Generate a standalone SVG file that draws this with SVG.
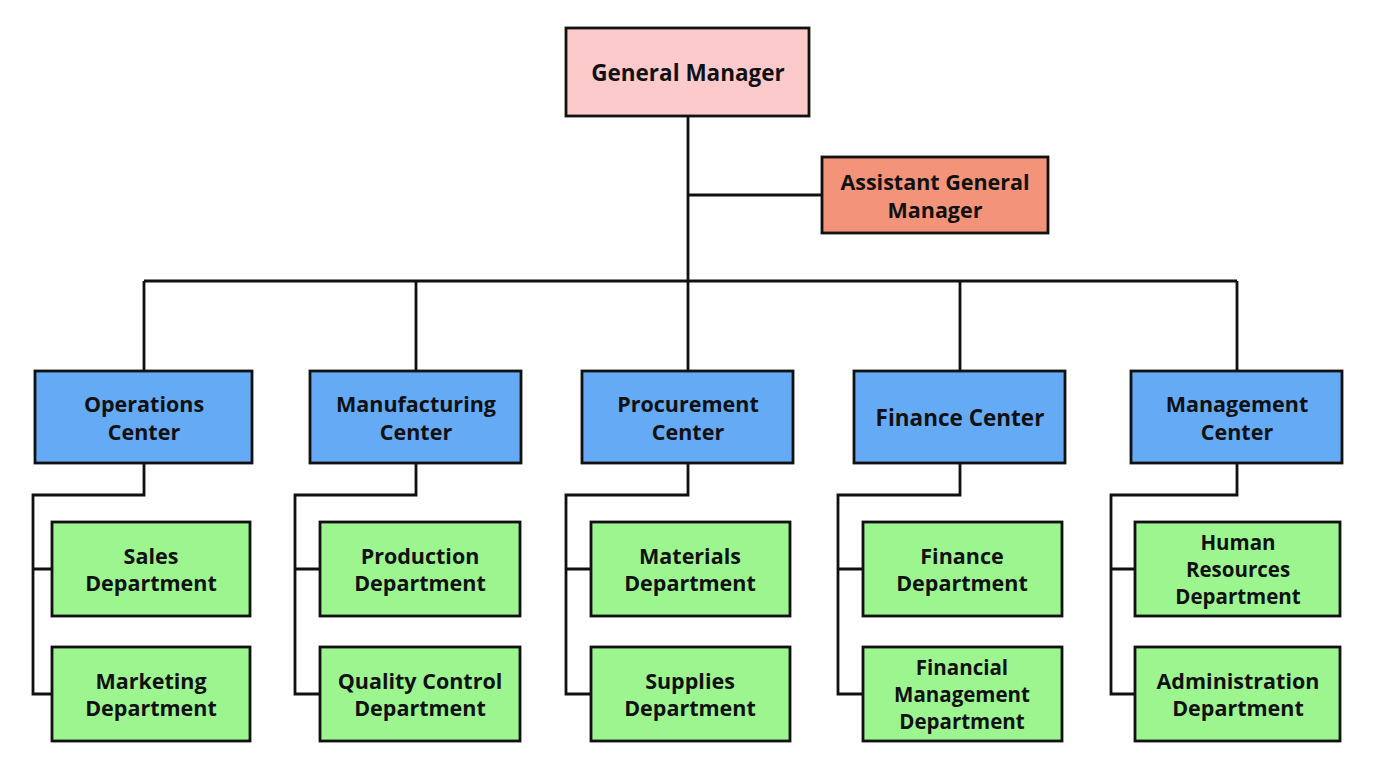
<svg xmlns="http://www.w3.org/2000/svg" width="1376" height="768" viewBox="0 0 1376 768">
<style>
.box{stroke:#111;stroke-width:2.8}
.gm{fill:#fccaca}
.agm{fill:#f2937a}
.ctr{fill:#64aaf5}
.dep{fill:#9cf58f}
text{font-family:"Open Sans","Noto Sans","Liberation Sans",sans-serif;font-weight:700;font-size:21.5px;fill:#111;text-anchor:middle}
text.big{font-size:22.5px}
text.t3{font-size:20.5px}
.ln{fill:none;stroke:#111;stroke-width:2.8}
</style>
<rect width="1376" height="768" fill="#ffffff"/>
<g id="connectors">
<path class="ln" d="M688 116V371M688 195H822M144 281H1237M144 281V371M416 281V371M960 281V371M1237 281V371"/>
<path class="ln" d="M144 463V495H33V694H52M33 569H52"/>
<path class="ln" d="M416 463V495H295V694H320M295 569H320"/>
<path class="ln" d="M688 463V495H566V694H591M566 569H591"/>
<path class="ln" d="M960 463V495H838V694H863M838 569H863"/>
<path class="ln" d="M1237 463V495H1111V694H1135M1111 569H1135"/>
</g>
<g id="gm"><rect class="box gm" x="566" y="28" width="243" height="88"/><text class="big" x="688" y="81">General Manager</text></g>
<g id="agm"><rect class="box agm" x="822" y="157" width="226" height="76"/><text x="935" y="190">Assistant General</text><text x="935" y="218">Manager</text></g>
<g id="ops"><rect class="box ctr" x="35" y="371" width="217" height="92"/><text x="144" y="412">Operations</text><text x="144" y="440">Center</text></g>
<g id="mfg"><rect class="box ctr" x="310" y="371" width="211" height="92"/><text x="416" y="412">Manufacturing</text><text x="416" y="440">Center</text></g>
<g id="proc"><rect class="box ctr" x="582" y="371" width="211" height="92"/><text x="688" y="412">Procurement</text><text x="688" y="440">Center</text></g>
<g id="fin"><rect class="box ctr" x="854" y="371" width="211" height="92"/><text class="big" x="960" y="426">Finance Center</text></g>
<g id="mgmt"><rect class="box ctr" x="1131" y="371" width="211" height="92"/><text x="1237" y="412">Management</text><text x="1237" y="440">Center</text></g>
<g id="sales"><rect class="box dep" x="52" y="522" width="198" height="94"/><text x="151" y="564">Sales</text><text x="151" y="591">Department</text></g>
<g id="marketing"><rect class="box dep" x="52" y="647" width="198" height="94"/><text x="151" y="689">Marketing</text><text x="151" y="716">Department</text></g>
<g id="production"><rect class="box dep" x="320" y="522" width="200" height="94"/><text x="420" y="564">Production</text><text x="420" y="591">Department</text></g>
<g id="qc"><rect class="box dep" x="320" y="647" width="200" height="94"/><text x="420" y="689">Quality Control</text><text x="420" y="716">Department</text></g>
<g id="materials"><rect class="box dep" x="591" y="522" width="199" height="94"/><text x="690" y="564">Materials</text><text x="690" y="591">Department</text></g>
<g id="supplies"><rect class="box dep" x="591" y="647" width="199" height="94"/><text x="690" y="689">Supplies</text><text x="690" y="716">Department</text></g>
<g id="finance"><rect class="box dep" x="863" y="522" width="199" height="94"/><text x="962" y="564">Finance</text><text x="962" y="591">Department</text></g>
<g id="finmgmt"><rect class="box dep" x="863" y="647" width="199" height="94"/><text class="t3" x="962" y="675">Financial</text><text class="t3" x="962" y="702">Management</text><text class="t3" x="962" y="729">Department</text></g>
<g id="hr"><rect class="box dep" x="1135" y="522" width="205" height="94"/><text class="t3" x="1238" y="550">Human</text><text class="t3" x="1238" y="577">Resources</text><text class="t3" x="1238" y="604">Department</text></g>
<g id="admin"><rect class="box dep" x="1135" y="647" width="205" height="94"/><text x="1238" y="689">Administration</text><text x="1238" y="716">Department</text></g>
</svg>
